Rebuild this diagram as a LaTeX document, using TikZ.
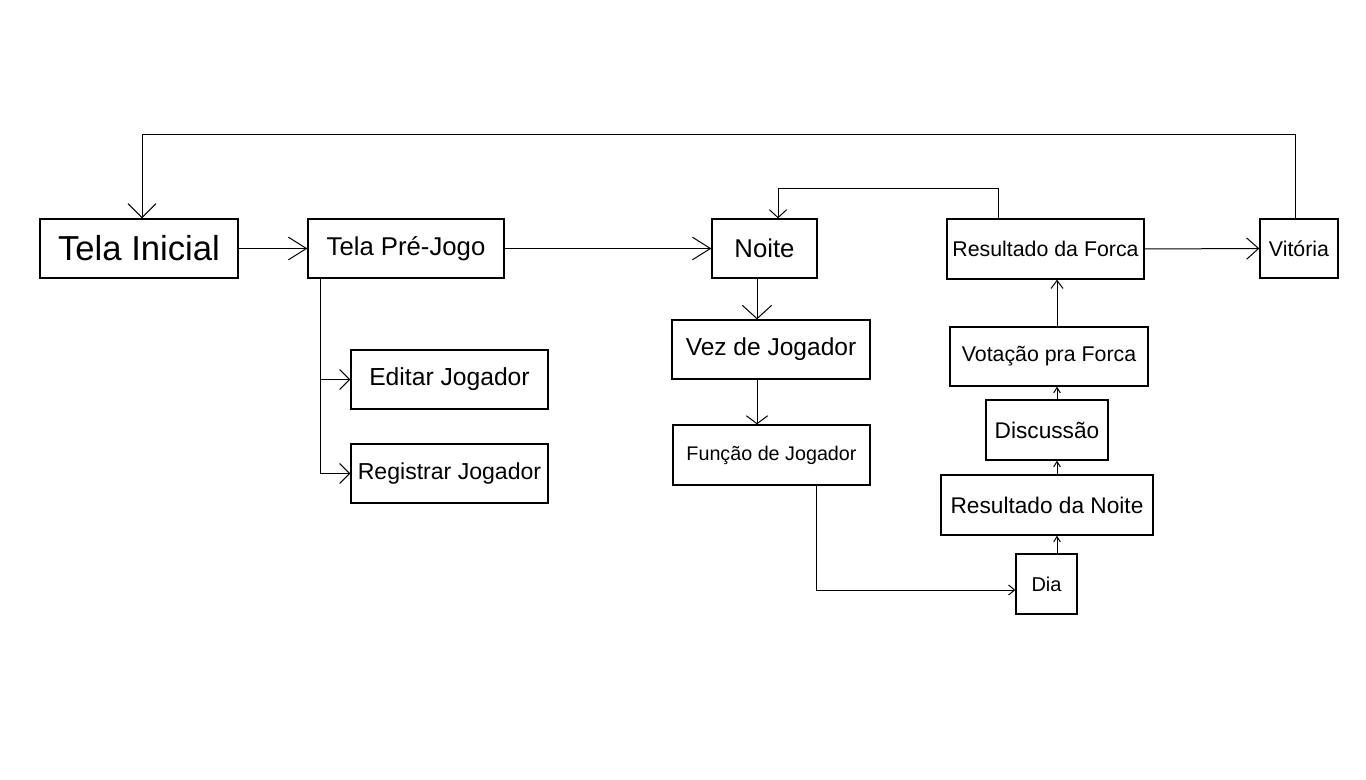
\documentclass[tikz,border=0pt]{standalone}
\usepackage{fontspec}
\setmainfont{Liberation Sans}
\usetikzlibrary{arrows.meta,calc}
\newcommand{\fs}[1]{\fontsize{#1}{#1}\selectfont}
\tikzset{
  box/.style={draw=black, line width=1pt, inner sep=0pt, anchor=center},
  conn/.style={draw=black, line width=0.75pt},
}
\begin{document}
\begin{tikzpicture}[x=0.75pt,y=-0.75pt]
\useasboundingbox (0,0) rectangle (1366,780);
\fill[white] (0,0) rectangle (1366,780);
% nodes
\node[box, minimum width=148.5pt, minimum height=44.25pt] (ti) at (139,248.5) {\fs{26pt}Tela Inicial};
\node[box, minimum width=147pt, minimum height=44.25pt] (tp) at (406,248.5) {\fs{19.3pt}Tela Pré-Jogo};
\node[box, minimum width=78.75pt, minimum height=44.25pt] (noite) at (764.5,248.5) {\fs{19.3pt}Noite};
\node[box, minimum width=147.75pt, minimum height=45pt] (rf) at (1045.5,249) {\fs{16pt}Resultado da Forca};
\node[box, minimum width=58.5pt, minimum height=44.25pt] (vit) at (1299,248.5) {\fs{16pt}Vitória\hspace{3pt}};
\node[box, minimum width=147.75pt, minimum height=44.25pt] (ed) at (449.5,379.5) {\fs{18.5pt}Editar Jogador};
\node[box, minimum width=147.75pt, minimum height=44.25pt] (reg) at (449.5,473.5) {\fs{17.3pt}Registrar Jogador};
\node[box, minimum width=148.5pt, minimum height=44.25pt] (vez) at (771,349.5) {\fs{18.4pt}Vez de Jogador};
\node[box, minimum width=147.75pt, minimum height=45pt] (fun) at (771.5,455) {\fs{14.8pt}Função de Jogador};
\node[box, minimum width=148.5pt, minimum height=44.25pt] (vot) at (1049,356.5) {\fs{16pt}Votação pra Forca};
\node[box, minimum width=91.5pt, minimum height=45pt] (disc) at (1047,430) {\fs{17pt}Discussão};
\node[box, minimum width=159pt, minimum height=45pt] (rn) at (1047,505) {\fs{17pt}Resultado da Noite};
\node[box, minimum width=45.75pt, minimum height=45pt] (dia) at (1046.5,584) {\fs{15pt}Dia\hspace{6pt}};
% helper coordinates
\coordinate (c142) at (142,0);
\coordinate (c320) at (320,0);
\coordinate (c757) at (757,0);
\coordinate (c778) at (778,0);
\coordinate (c816) at (816,0);
\coordinate (c998) at (998,0);
\coordinate (c1057) at (1057,0);
\coordinate (c1295) at (1295,0);
\coordinate (y135) at (0,135);
\coordinate (y189) at (0,189);
\coordinate (y590) at (0,590);
% connectors
\draw[conn, -{Straight Barb[length=13.5pt,width=17pt]}] (ti.east) -- (tp.west);
\draw[conn, -{Straight Barb[length=13.5pt,width=17pt]}] (tp.east) -- (noite.west);
\draw[conn, -{Straight Barb[length=7.5pt,width=15pt]}] (tp.south -| c320) |- (ed.west);
\draw[conn, -{Straight Barb[length=7.5pt,width=15pt]}] (tp.south -| c320) |- (reg.west);
\draw[conn, -{Straight Barb[length=10pt,width=22pt]}] (noite.south -| c757) -- (vez.north -| c757);
\draw[conn, -{Straight Barb[length=6pt,width=16pt]}] (vez.south -| c757) -- (fun.north -| c757);
\draw[conn, -{Straight Barb[length=4.5pt,width=7.5pt]}] (fun.south -| c816) |- (dia.west |- y590);
\draw[conn, -{Straight Barb[length=4pt,width=5pt]}] (dia.north -| c1057) -- (rn.south -| c1057);
\draw[conn, -{Straight Barb[length=4pt,width=5pt]}] (rn.north -| c1057) -- (disc.south -| c1057);
\draw[conn, -{Straight Barb[length=4pt,width=5pt]}] (disc.north -| c1057) -- (vot.south -| c1057);
\draw[conn, -{Straight Barb[length=6pt,width=9pt]}] (vot.north -| c1057) -- (rf.south -| c1057);
\draw[conn, -{Straight Barb[length=9pt,width=16pt]}] (rf.east) -- (vit.west);
\draw[conn, -{Straight Barb[length=6pt,width=13pt]}] (rf.north -| c998) -- (c998 |- y189) -| (noite.north -| c778);
\draw[conn, -{Straight Barb[length=10.5pt,width=21pt]}] (vit.north -| c1295) -- (c1295 |- y135) -| (ti.north -| c142);
\end{tikzpicture}
\end{document}
